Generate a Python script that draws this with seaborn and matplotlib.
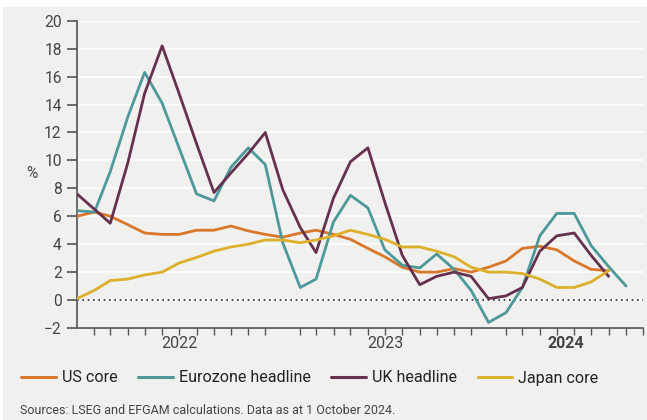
import matplotlib
matplotlib.use("Agg")
import matplotlib.pyplot as plt
import matplotlib.dates as mdates
from matplotlib.patches import Rectangle
from matplotlib.transforms import blended_transform_factory
import numpy as np
import pandas as pd
import seaborn as sns

# Monthly inflation readings, % (Jan 2022 onwards)
us_core = [6.0, 6.3, 6.0, 5.4, 4.8, 4.7, 4.7, 5.0, 5.0, 5.3, 4.95, 4.7,
           4.5, 4.8, 5.0, 4.7, 4.35, 3.7, 3.1, 2.35, 2.0, 2.0, 2.25, 2.0,
           2.35, 2.8, 3.7, 3.85, 3.6, 2.8, 2.2, 2.1]
eurozone_headline = [6.4, 6.3, 9.2, 13.1, 16.3, 14.1, 10.9, 7.6, 7.1, 9.5, 10.9, 9.7,
                     4.1, 0.9, 1.5, 5.6, 7.5, 6.6, 3.6, 2.5, 2.3, 3.3, 2.2, 0.7,
                     -1.6, -0.9, 0.9, 4.6, 6.2, 6.2, 3.9, 2.4, 1.0]
uk_headline = [7.6, 6.5, 5.5, 9.8, 14.8, 18.2, 14.8, 11.2, 7.7, 9.1, 10.5, 12.0,
               7.9, 5.2, 3.4, 7.3, 9.9, 10.9, 7.0, 3.2, 1.1, 1.7, 2.0, 1.7,
               0.1, 0.3, 0.9, 3.5, 4.6, 4.8, 3.2, 1.7]
japan_core = [0.1, 0.7, 1.4, 1.5, 1.8, 2.0, 2.65, 3.05, 3.5, 3.8, 4.0, 4.3,
              4.3, 4.1, 4.3, 4.6, 5.0, 4.7, 4.35, 3.8, 3.8, 3.5, 3.1, 2.35,
              2.0, 2.0, 1.9, 1.5, 0.9, 0.9, 1.3, 2.1]

series = {
    "US core": us_core,
    "Eurozone headline": eurozone_headline,
    "UK headline": uk_headline,
    "Japan core": japan_core,
}
colors = {
    "US core": "#D9772B",
    "Eurozone headline": "#4D9999",
    "UK headline": "#66304F",
    "Japan core": "#DDB02B",
}
year_labels = ["2022", "2023", "2024"]

start = pd.Timestamp("2022-01-01")
frames = []
for name, vals in series.items():
    dates = pd.date_range(start, periods=len(vals), freq="MS")
    frames.append(pd.DataFrame({"date": dates, "value": vals, "series": name}))
df = pd.concat(frames, ignore_index=True)

sns.set_theme(style="white")
plt.rcParams["font.family"] = ["Roboto", "DejaVu Sans"]

bg = "#F0F0EE"
ink = "#444444"
fig = plt.figure(figsize=(6.47, 4.20), dpi=100, facecolor="white")
fig.patches.append(Rectangle((3 / 647, 0), 1, 413 / 420, transform=fig.transFigure,
                             facecolor=bg, edgecolor="none", zorder=-10))
ax = fig.add_axes([77 / 647, 92 / 420, 566 / 647, 307.3 / 420])
ax.set_facecolor(bg)

sns.lineplot(data=df, x="date", y="value", hue="series", palette=colors,
             hue_order=list(series.keys()), linewidth=2.0, ax=ax, zorder=3)

ax.set_ylim(-2, 20)
ax.set_yticks(np.arange(-2, 21, 2))
ax.set_xlim(pd.Timestamp("2022-01-01"), pd.Timestamp("2024-10-01"))
ax.yaxis.grid(True, color="white", linewidth=1.2)
ax.set_axisbelow(True)
ax.axhline(0, color="#222222", linewidth=1.2, linestyle=(0, (1, 2.2)), zorder=2)

for side in ("top", "right"):
    ax.spines[side].set_visible(False)
for side in ("left", "bottom"):
    ax.spines[side].set_color("#555555")
    ax.spines[side].set_linewidth(1.2)

ax.xaxis.set_major_locator(mdates.YearLocator())
ax.xaxis.set_minor_locator(mdates.MonthLocator())
ax.xaxis.set_major_formatter(plt.NullFormatter())
ax.tick_params(axis="x", which="major", length=7, width=1.2, color="#555555")
ax.tick_params(axis="x", which="minor", length=5, width=1.0, color="#555555", bottom=True)
ax.tick_params(axis="y", length=7, width=1.2, color="#555555", labelsize=11.2,
               labelcolor=ink, pad=4, left=True)
ax.set_xlabel("")
ax.set_ylabel("")

# Year labels centred under each year's span
tr = blended_transform_factory(ax.transData, fig.transFigure)
centers = [pd.Timestamp("2022-07-02"), pd.Timestamp("2023-07-02"), pd.Timestamp("2024-05-17")]
for lab, c in zip(year_labels, centers):
    ax.text(mdates.date2num(c), (420 - 343) / 420, lab, transform=tr, ha="center",
            va="center", fontsize=11.5, color=ink,
            fontweight="bold" if lab == "2024" else "normal")

fig.text(32 / 647, (420 - 173) / 420, "%", ha="center", va="center", fontsize=11.2, color=ink)

handles, labels = ax.get_legend_handles_labels()
ax.get_legend().remove()
leg = fig.legend(handles, labels, loc="center left", bbox_to_anchor=(15 / 647, 42 / 420),
                 ncol=4, frameon=False, fontsize=11.6, handlelength=2.15,
                 handletextpad=0.35, columnspacing=1.3, borderaxespad=0)
for t in leg.get_texts():
    t.set_color("#222222")
for h in leg.get_lines():
    h.set_linewidth(2.2)

fig.text(20 / 647, 10 / 420, "Sources: LSEG and EFGAM calculations. Data as at 1 October 2024.",
         ha="left", va="center", fontsize=9.0, color=ink)

fig.savefig("out.png", dpi=100, facecolor="white")
